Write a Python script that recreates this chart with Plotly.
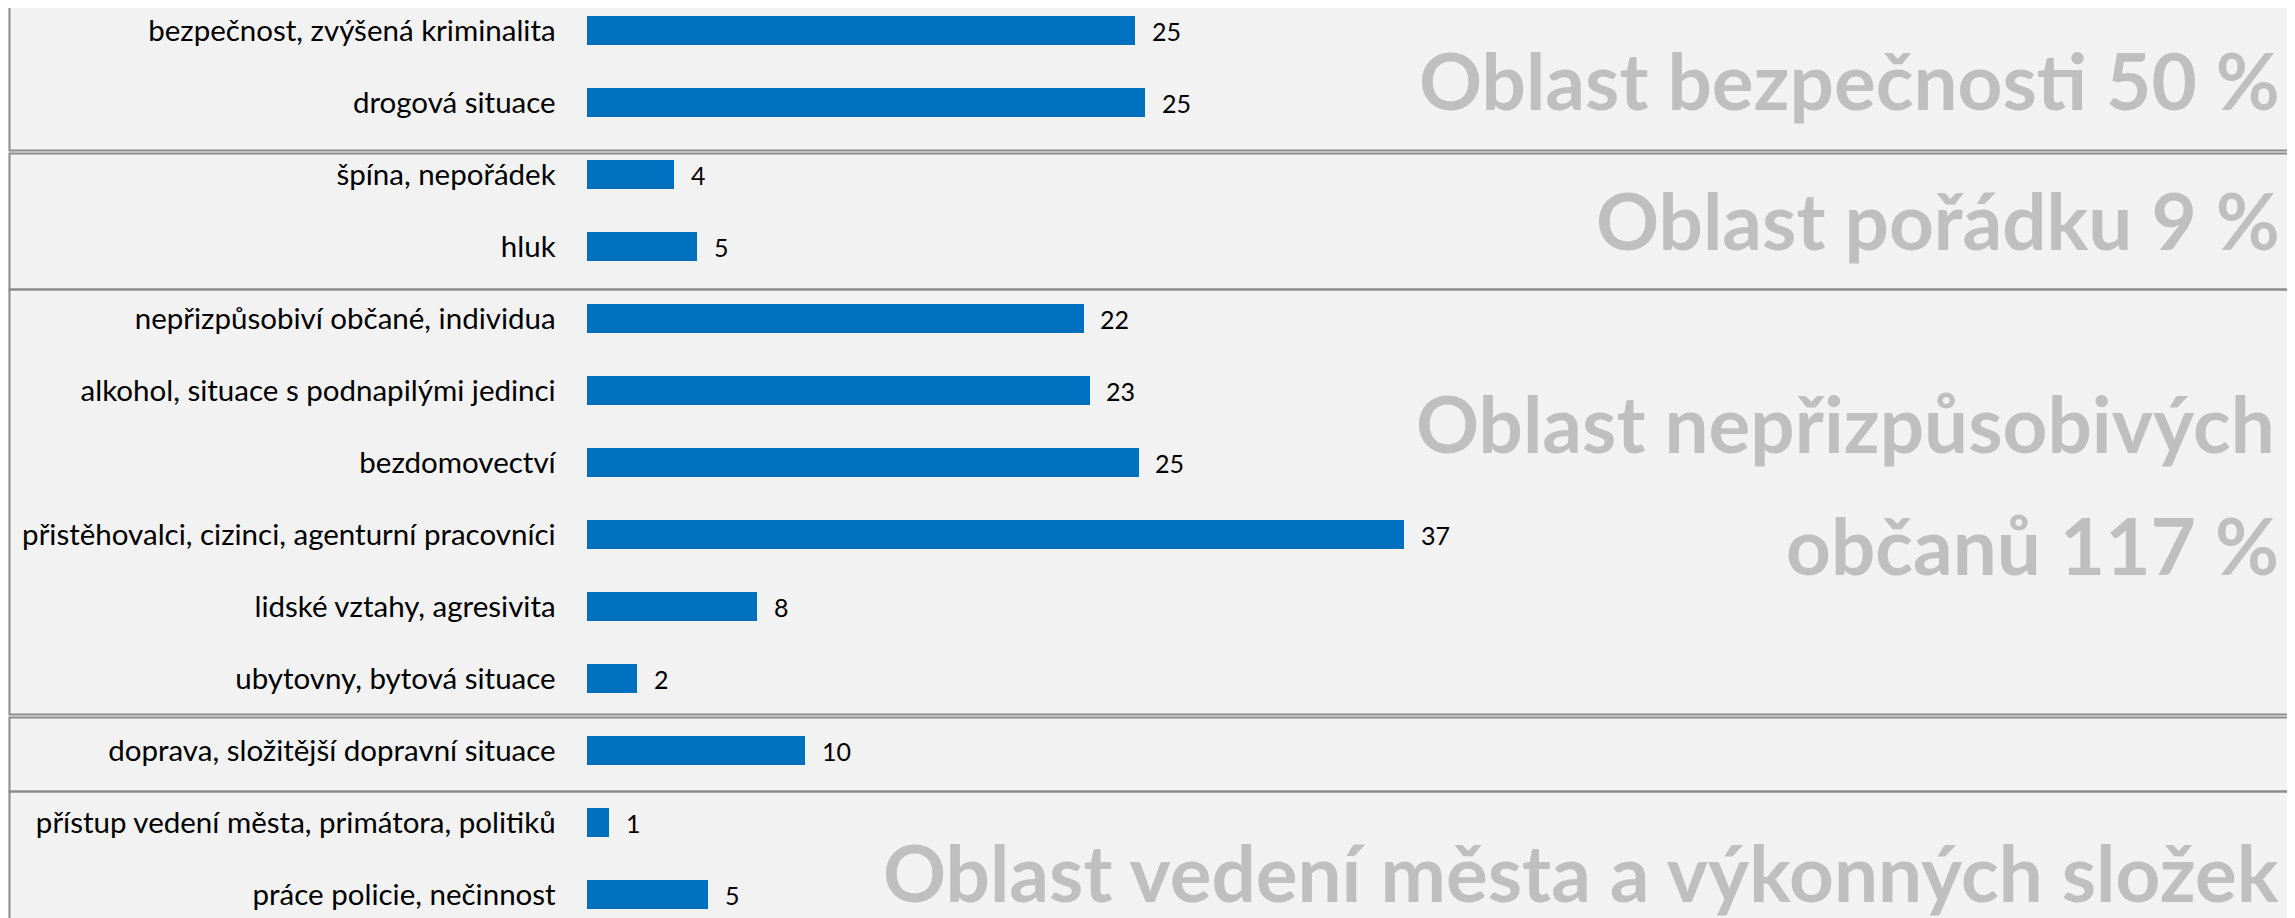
import plotly.graph_objects as go

# ---- data ----
categories = [
    "bezpečnost, zvýšená kriminalita",
    "drogová situace",
    "špína, nepořádek",
    "hluk",
    "nepřizpůsobiví občané, individua",
    "alkohol, situace s podnapilými jedinci",
    "bezdomovectví",
    "přistěhovalci, cizinci, agenturní pracovníci",
    "lidské vztahy, agresivita",
    "ubytovny, bytová situace",
    "doprava, složitější dopravní situace",
    "přístup vedení města, primátora, politiků",
    "práce policie, nečinnost",
]
values = [24.75, 25.21, 3.93, 4.98, 22.42, 22.69, 24.90, 36.90, 7.69, 2.25, 9.86, 1.01, 5.46]
value_labels = ["25", "25", "4", "5", "22", "23", "25", "37", "8", "2", "10", "1", "5"]

group_titles = [
    "Oblast bezpečnosti 50 %",
    "Oblast pořádku 9 %",
    "Oblast nepřizpůsobivých",
    "občanů 117 %",
    "Oblast vedení města a výkonných složek",
]

# ---- layout constants (pixels, figure coordinates) ----
W, H = 2295, 918
OFF = 8  # page body margin
plot_x0 = 586.7 - OFF
px_per_unit = 22.15
row_px = 72.0
row0_center = 30.5 - OFF

BG = "#f2f2f2"
BAR = "#0070c0"
TITLE_GRAY = "#bfbfbf"
BOX = "#8c8c8c"

fig = go.Figure()
fig.add_trace(go.Bar(
    x=values, y=categories, orientation="h",
    marker=dict(color=BAR, line=dict(width=0)),
    width=0.39, hoverinfo="x+y", showlegend=False,
))

def px_x(p):
    return (p - OFF) / W

def px_y(p):
    return 1 - (p - OFF) / H

# value labels
annotations = []
for cat, v, lab in zip(categories, values, value_labels):
    annotations.append(dict(
        x=v, y=cat, xref="x", yref="y", text=lab, showarrow=False,
        xanchor="left", yanchor="middle", xshift=15,
        font=dict(family="Lato", size=25, color="#000000"),
    ))

# big group titles (right aligned)
title_pos = [(2282, 80), (2282, 220), (2277, 423), (2281, 545), (2281, 872)]
for t, (xr, ym) in zip(group_titles, title_pos):
    annotations.append(dict(
        x=px_x(xr), y=px_y(ym), xref="paper", yref="paper", text=t,
        showarrow=False, xanchor="right", yanchor="middle",
        font=dict(family="Lato", size=78.2, color=TITLE_GRAY, weight="bold"),
    ))

# group boxes
boxes = [(7, 150.5), (153.5, 289.5), (289.5, 714.5), (717.5, 791.5), (791.5, 940)]
shapes = []
for y0, y1 in boxes:
    shapes.append(dict(
        type="rect", xref="paper", yref="paper",
        x0=px_x(9.5), x1=px_x(2320), y0=px_y(y1), y1=px_y(y0),
        line=dict(color=BOX, width=2), fillcolor="rgba(0,0,0,0)", layer="below",
    ))

y_top = 0 - row0_center / row_px
y_bot = y_top + H / row_px

fig.update_layout(
    template="none",
    width=W, height=H,
    margin=dict(l=0, r=0, t=0, b=0, pad=0),
    paper_bgcolor=BG, plot_bgcolor=BG,
    showlegend=False,
    annotations=annotations,
    shapes=shapes,
    bargap=0,
    xaxis=dict(
        domain=[plot_x0 / W, 1], range=[0, (W - plot_x0) / px_per_unit],
        visible=False, showgrid=False, zeroline=False, automargin=False, fixedrange=True,
    ),
    yaxis=dict(
        type="category", categoryorder="array", categoryarray=categories,
        range=[y_bot, y_top], showgrid=False, zeroline=False, showline=False,
        ticks="", ticklabelstandoff=30, automargin=False, fixedrange=True,
        tickfont=dict(family="Lato", size=29.5, color="#000000"),
    ),
)

fig.write_html("out.html")
